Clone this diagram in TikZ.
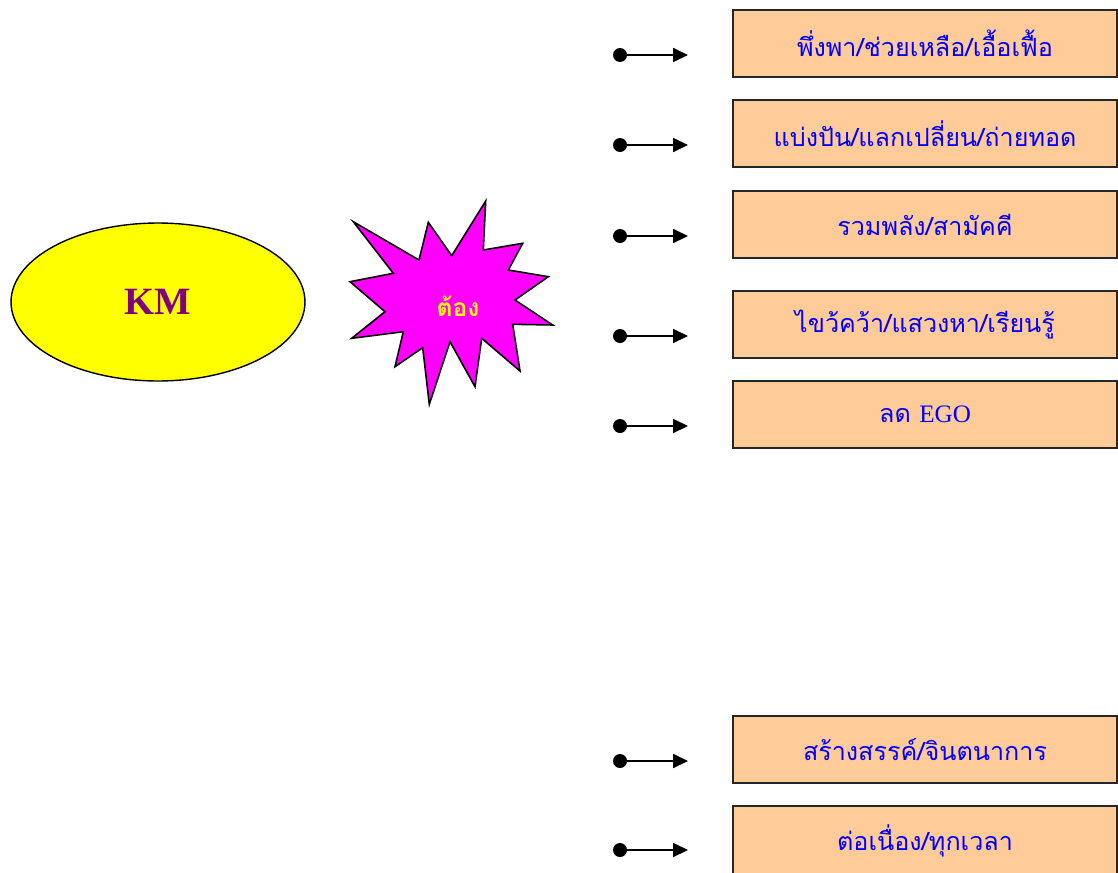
\documentclass[tikz,border=0pt]{standalone}
\usepackage{fontspec}
\setmainfont{Liberation Serif}
\newfontfamily\thaifont[Script=Thai]{Loma}
\usepackage{xcolor}
\usetikzlibrary{arrows.meta, positioning, shapes.geometric}
\definecolor{peach}{HTML}{FFCC99}
\definecolor{kmpurple}{HTML}{800080}
\definecolor{kmyellow}{HTML}{FFFF00}
\definecolor{burst}{HTML}{FF00FF}

\tikzset{
  ideabox/.style={draw=black!85, line width=0.8pt, fill=peach, text=blue,
    minimum width=7.68cm, minimum height=1.34cm, inner sep=0pt,
    font=\thaifont\fontsize{14.3}{16}\selectfont},
  bullet/.style={circle, fill=black, inner sep=0pt, minimum size=0.28cm},
  pointer/.style={->, line width=0.8pt}
}

\begin{document}
\begin{tikzpicture}[x=0.02cm, y=-0.02cm, >={Triangle[length=8.5pt, width=8pt]}]
  \useasboundingbox (0,0) rectangle (1118,872);
  \clip (0,0) rectangle (1118,872);
  % KM
  \node[ellipse, draw, line width=0.8pt, fill=kmyellow, text=kmpurple,
        minimum width=5.88cm, minimum height=3.16cm,
        font=\bfseries\fontsize{22}{24}\selectfont] (km) at (158,302) {KM};
  % starburst
  \draw[line width=0.9pt, fill=burst]
    (353.3,221.7) -- (419,260) -- (428.3,222.3) -- (451.7,255.7)
    -- (485.7,201) -- (483.3,250) -- (522.7,243.3) -- (508.3,270)
    -- (548.3,276.7) -- (515,300) -- (552.7,325) -- (512.7,324.3)
    -- (520,371) -- (481.7,338.3) -- (475,386.7) -- (450,341.7)
    -- (429.3,404.3) -- (422.7,347.7) -- (395,366.7) -- (403.3,331.7)
    -- (351.7,338.3) -- (385,311.7) -- (350,281.7) -- (393.3,273.3) -- cycle;
  \node[text=kmyellow, font=\thaifont\bfseries\fontsize{14}{16}\selectfont]
    (must) at (458,306) {ต้อง};
  % boxes
  \node[ideabox] (b1) at (925,43.5)  {พึ่งพา/ช่วยเหลือ/เอื้อเฟื้อ};
  \node[ideabox] (b2) at (925,133.5) {แบ่งปัน/แลกเปลี่ยน/ถ่ายทอด};
  \node[ideabox] (b3) at (925,224.5) {รวมพลัง/สามัคคี};
  \node[ideabox] (b4) at (925,324.5) {ไขว้คว้า/แสวงหา/เรียนรู้};
  \node[ideabox] (b5) at (925,414.5) {ลด {\rmfamily EGO}};
  \node[ideabox] (b6) at (925,749.5) {สร้างสรรค์/จินตนาการ};
  \node[ideabox, minimum height=1.4cm] (b7) at (925,841) {ต่อเนื่อง/ทุกเวลา};
  % bullets and arrows
  \node[bullet] (d1) at (620,55)  {};  \coordinate (t1) at (688,55);
  \node[bullet] (d2) at (620,145) {};  \coordinate (t2) at (688,145);
  \node[bullet] (d3) at (620,236) {};  \coordinate (t3) at (688,236);
  \node[bullet] (d4) at (620,336) {};  \coordinate (t4) at (688,336);
  \node[bullet] (d5) at (620,426) {};  \coordinate (t5) at (688,426);
  \node[bullet] (d6) at (620,761) {};  \coordinate (t6) at (688,761);
  \node[bullet] (d7) at (620,850) {};  \coordinate (t7) at (688,850);
  \draw[pointer] (d1) -- (t1);
  \draw[pointer] (d2) -- (t2);
  \draw[pointer] (d3) -- (t3);
  \draw[pointer] (d4) -- (t4);
  \draw[pointer] (d5) -- (t5);
  \draw[pointer] (d6) -- (t6);
  \draw[pointer] (d7) -- (t7);
\end{tikzpicture}
\end{document}
